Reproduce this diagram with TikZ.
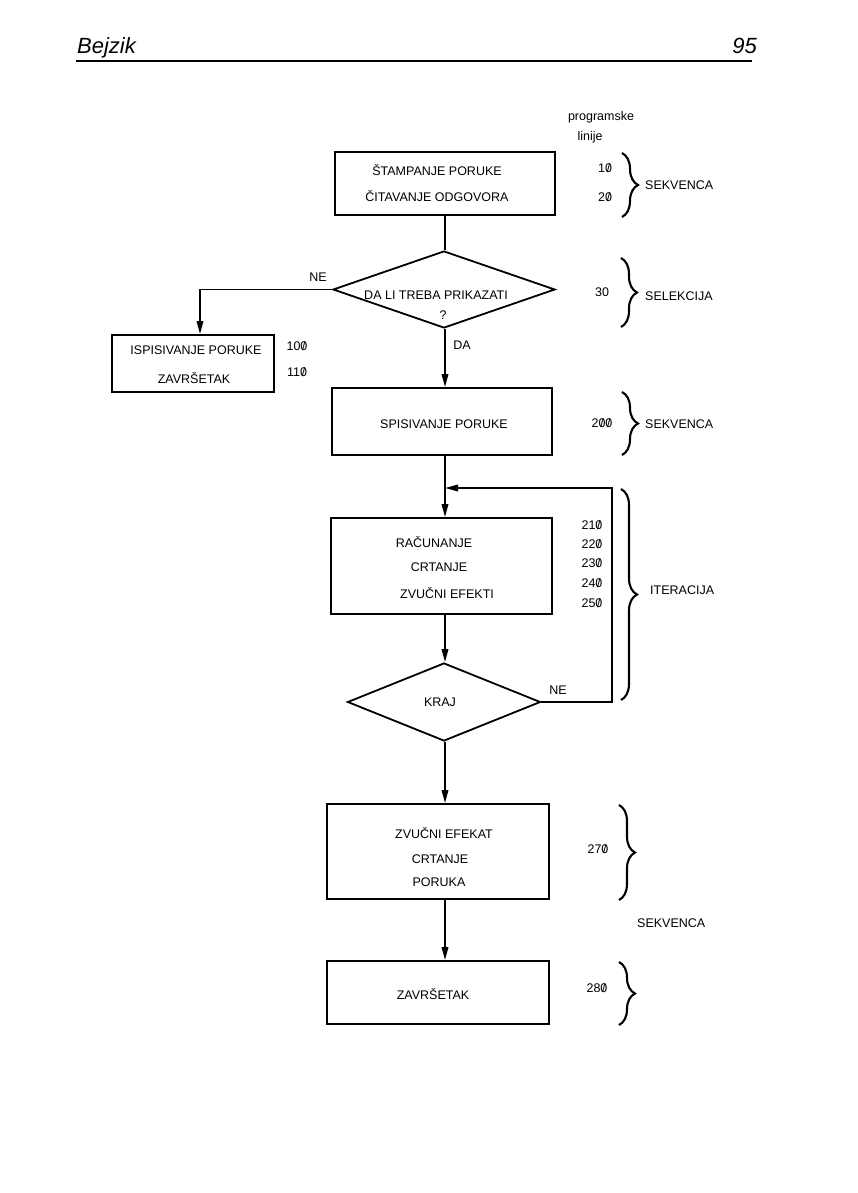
\documentclass[tikz,border=0pt]{standalone}
\usepackage{fontspec}
\setmainfont{Liberation Sans}
\usetikzlibrary{shapes.geometric, arrows.meta, decorations.pathreplacing}
\newcommand{\sz}{{\ooalign{0\cr\hidewidth/\hidewidth\cr}}}
\begin{document}
\begin{tikzpicture}[x=1pt, y=-1pt,
  box/.style={draw, line width=1.8pt, inner sep=0pt},
  dia/.style={draw, diamond, line width=1.8pt, inner sep=0pt},
  txt/.style={inner sep=0pt, font=\fontsize{12.5}{15}\selectfont, text height=9pt, text depth=0pt},
  conn/.style={line width=1.8pt},
  arr/.style={conn, -{Triangle[length=13pt,width=6.5pt]}},
  brc/.style={line width=2.1pt, decorate, decoration={brace, amplitude=16pt}},
  hdr/.style={inner sep=0pt, font=\fontsize{22}{26}\selectfont\itshape}
]
\useasboundingbox (0,0) rectangle (858,1193);
% header
\node[hdr, anchor=base west] (hd) at (77,54) {Bejzik};
\node[hdr, anchor=base east] (pg) at (757,54) {95};
\coordinate (r1) at (76,61);
\coordinate (r2) at (752,61);
\draw[line width=1.4pt] (r1) -- (r2);
% spine
\coordinate (sp) at (445,0);
% column heading
\node[txt] (ph1) at (601,116) {programske};
\node[txt] (ph2) at (590,136) {linije};
% boxes
\node[box, minimum width=220pt, minimum height=63pt] (b1) at (445,183.5) {};
\node[txt] (t1a) at (437,171) {ŠTAMPANJE PORUKE};
\node[txt] (t1b) at (437,197) {ČITAVANJE ODGOVORA};
\node[dia, minimum width=222pt, minimum height=77pt] (d1) at (444,289.5) {};
\node[txt] (t2a) at (436,295) {DA LI TREBA PRIKAZATI};
\node[txt] (t2b) at (443,315) {?};
\node[box, minimum width=162pt, minimum height=57pt] (bl) at (193,363.5) {};
\node[txt] (tla) at (196,350) {ISPISIVANJE PORUKE};
\node[txt] (tlb) at (194,379) {ZAVRŠETAK};
\node[box, minimum width=220pt, minimum height=67pt] (b3) at (442,421.5) {};
\node[txt] (t3) at (444,424) {SPISIVANJE PORUKE};
\node[box, minimum width=221pt, minimum height=96pt] (b4) at (441.5,566) {};
\node[txt] (t4a) at (434,543) {RAČUNANJE};
\node[txt] (t4b) at (439,567) {CRTANJE};
\node[txt] (t4c) at (447,594) {ZVUČNI EFEKTI};
\node[dia, minimum width=193pt, minimum height=78pt] (d2) at (444,702) {};
\node[txt] (t5) at (440,702) {KRAJ};
\node[box, minimum width=222pt, minimum height=95pt] (b5) at (438,851.5) {};
\node[txt] (t6a) at (444,834) {ZVUČNI EFEKAT};
\node[txt] (t6b) at (440,859) {CRTANJE};
\node[txt] (t6c) at (439,882) {PORUKA};
\node[box, minimum width=222pt, minimum height=63pt] (b6) at (438,992.5) {};
\node[txt] (t7) at (433,995) {ZAVRŠETAK};
% branch labels
\node[txt] (ne1) at (318,277) {NE};
\node[txt] (da1) at (462,345) {DA};
\node[txt] (ne2) at (558,690) {NE};
% connectors
\draw[conn] (b1.south -| sp) -- (d1.north -| sp);
\draw[arr] (d1.west) -| ([xshift=7pt]bl.north);
\draw[arr] (d1.south -| sp) -- (b3.north -| sp);
\draw[arr] (b3.south -| sp) -- (b4.north -| sp);
\coordinate (lp) at (612,488);
\draw[arr] (d2.east) -| (lp) -- (lp -| sp);
\draw[arr] (b4.south -| sp) -- (d2.north -| sp);
\draw[arr] (d2.south -| sp) -- (b5.north -| sp);
\draw[arr] (b5.south -| sp) -- (b6.north -| sp);
% line numbers
\node[txt] (n10) at (605,168) {1\sz};
\node[txt] (n20) at (605,197) {2\sz};
\node[txt] (n30) at (602,292) {30};
\node[txt] (n100) at (297,346) {10\sz};
\node[txt] (n110) at (297,372) {11\sz};
\node[txt] (n200) at (602,423) {2\sz\sz};
\node[txt] (n210) at (592,525) {21\sz};
\node[txt] (n220) at (592,544) {22\sz};
\node[txt] (n230) at (592,563) {23\sz};
\node[txt] (n240) at (592,583) {24\sz};
\node[txt] (n250) at (592,603) {25\sz};
\node[txt] (n270) at (598,849) {27\sz};
\node[txt] (n280) at (597,988) {28\sz};
% braces
\draw[brc] (622,153) -- (622,217);
\draw[brc] (621,258) -- (621,327);
\draw[brc] (622,392) -- (622,455);
\draw[brc] (621,489) -- (621,700);
\draw[brc] (619,805) -- (619,900);
\draw[brc] (619,962) -- (619,1025);
% structure labels
\node[txt, anchor=west] (s1) at (645,185) {SEKVENCA};
\node[txt, anchor=west] (s2) at (645,296) {SELEKCIJA};
\node[txt, anchor=west] (s3) at (645,424) {SEKVENCA};
\node[txt, anchor=west] (s4) at (650,590) {ITERACIJA};
\node[txt, anchor=west] (s5) at (637,923) {SEKVENCA};
\end{tikzpicture}
\end{document}
